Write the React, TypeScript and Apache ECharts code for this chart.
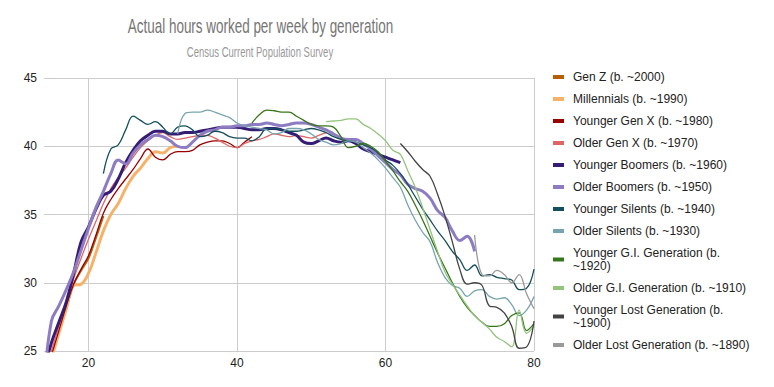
import React, { useEffect, useRef } from "react";
import * as echarts from "echarts";

const titleText = "Actual hours worked per week by generation";
const subtitleText = "Census Current Population Survey";

const seriesNames = [
  "Gen Z (b. ~2000)",
  "Millennials (b. ~1990)",
  "Younger Gen X (b. ~1980)",
  "Older Gen X (b. ~1970)",
  "Younger Boomers (b. ~1960)",
  "Older Boomers (b. ~1950)",
  "Younger Silents (b. ~1940)",
  "Older Silents (b. ~1930)",
  "Younger G.I. Generation (b. ~1920)",
  "Older G.I. Generation (b. ~1910)",
  "Younger Lost Generation (b. ~1900)",
  "Older Lost Generation (b. ~1890)",
];

const seriesColors = [
  "#b45f06", "#f6b26b", "#990000", "#e06666", "#351c75", "#8e7cc3",
  "#134f5c", "#76a5af", "#38761d", "#93c47d", "#434343", "#999999",
];

// first age (x) of each series; values are one per year of age
const startAges = [14, 14, 14, 14, 14, 14, 22, 32, 42, 52, 62, 72];

const genZ = [23.4, 24.8, 26.4, 28.1, 29.9, 30.9, 31.8, 33.3, 34.9];
const millennials = [23.0, 24.5, 26.3, 28.1, 29.8, 29.9, 30.7, 32.2, 33.8, 35.0, 35.8, 36.9, 37.8, 38.4, 39.1, 39.6, 39.5, 39.9, 40.0];
const youngerGenX = [23.0, 24.7, 26.5, 28.3, 29.9, 31.0, 32.0, 33.5, 35.1, 36.1, 36.9, 37.6, 38.3, 39.1, 39.8, 39.2, 39.0, 39.4, 39.6, 39.6, 39.7, 40.1, 40.3, 40.4, 40.4, 40.2, 39.9, 40.3, 40.7];
const olderGenX = [23.3, 25.0, 26.8, 28.6, 30.3, 31.8, 33.2, 34.5, 35.8, 36.9, 37.7, 38.4, 39.2, 39.9, 40.4, 40.8, 41.0, 40.7, 40.5, 40.6, 40.7, 40.8, 40.8, 40.6, 40.3, 40.0, 39.9, 40.2, 40.4, 40.5, 40.7, 40.9, 40.8, 40.7, 40.8, 40.7, 40.6, 40.8, 41.0];
const youngerBoomers = [23.6, 25.6, 27.1, 28.6, 30.7, 33.0, 34.1, 35.4, 36.4, 36.7, 37.6, 38.8, 39.7, 40.4, 40.8, 41.1, 41.1, 40.9, 40.9, 41.0, 41.0, 41.1, 41.2, 41.3, 41.4, 41.4, 41.4, 41.3, 41.2, 41.2, 41.3, 41.3, 41.2, 41.0, 40.8, 40.3, 40.2, 40.4, 40.6, 40.4, 40.3, 40.4, 40.2, 39.8, 39.6, 39.4, 39.2, 39.0, 38.8];
const olderBoomers = [22.5, 27.2, 28.3, 29.5, 30.8, 32.4, 34.0, 35.5, 36.7, 38.0, 39.0, 38.7, 39.5, 40.1, 40.5, 40.8, 40.7, 40.4, 40.0, 39.9, 40.3, 40.8, 41.1, 41.2, 41.4, 41.4, 41.5, 41.5, 41.6, 41.6, 41.7, 41.6, 41.5, 41.6, 41.7, 41.7, 41.6, 41.4, 41.2, 40.9, 40.6, 40.5, 40.5, 40.2, 39.8, 39.3, 38.8, 38.3, 37.9, 37.2, 36.9, 36.7, 36.2, 35.3, 34.8, 33.8, 33.1, 33.4, 32.3];
const youngerSilents = [38.0, 39.8, 40.1, 41.2, 42.2, 41.9, 41.6, 41.8, 41.4, 40.9, 41.4, 41.5, 41.2, 40.7, 40.8, 41.1, 41.0, 40.7, 40.6, 40.6, 40.4, 40.7, 41.3, 41.3, 41.2, 41.1, 41.1, 41.2, 41.3, 41.2, 41.0, 40.7, 40.5, 40.4, 40.3, 40.1, 39.9, 39.5, 39.0, 38.6, 38.0, 37.2, 36.3, 35.4, 34.6, 33.8, 33.1, 32.3, 31.7, 30.9, 31.3, 30.5, 30.6, 30.4, 30.3, 30.2, 29.5, 29.6, 31.0];
const olderSilents = [40.9, 42.4, 42.5, 42.5, 42.65, 42.5, 42.3, 42.1, 41.7, 41.5, 41.4, 41.3, 41.2, 40.9, 41.0, 41.3, 41.3, 41.2, 40.9, 40.5, 40.3, 40.1, 40.2, 40.4, 40.3, 39.9, 39.5, 39.0, 38.4, 37.7, 37.0, 35.7, 34.6, 33.7, 33.0, 31.5, 30.4, 29.8, 29.6, 29.0, 29.4, 29.5, 29.0, 28.8, 28.9, 28.4, 27.6, 28.0, 29.0];
const youngerGI = [41.7, 42.3, 42.65, 42.6, 42.5, 42.5, 42.2, 41.9, 41.6, 41.5, 41.5, 41.4, 40.7, 39.9, 40.0, 40.2, 40.0, 39.6, 38.9, 38.2, 37.4, 36.7, 35.7, 34.6, 33.4, 32.2, 31.1, 30.0, 29.0, 28.2, 27.6, 27.1, 26.8, 26.8, 27.0, 27.6, 27.8, 26.5, 27.0];
const olderGI = [41.8, 41.85, 41.9, 42.0, 42.0, 41.6, 41.3, 40.9, 40.4, 39.7, 39.4, 38.2, 37.0, 35.5, 33.9, 32.3, 30.8, 29.9, 29.1, 28.3, 27.6, 27.1, 26.6, 26.0, 25.7, 25.3, 28.0, 26.3, 26.8];
const youngerLost = [40.2, 39.6, 38.9, 38.3, 37.8, 36.5, 34.9, 33.0, 31.0, 29.9, 30.0, 29.8, 28.3, 28.2, 27.8, 26.8, 25.2, 25.3, 27.2];
const olderLost = [33.5, 30.6, 30.5, 30.9, 30.6, 30.0, 30.6, 29.2, 28.1];

const seriesValues = [
  genZ, millennials, youngerGenX, olderGenX, youngerBoomers, olderBoomers,
  youngerSilents, olderSilents, youngerGI, olderGI, youngerLost, olderLost,
];

const thickSeries = [1, 4, 5];

const xTicks = [20, 40, 60, 80];
const xMin = 14;
const xMax = 80;
const yMin = 25;
const yMax = 45;
const yInterval = 5;

const FONT = '"Liberation Sans", Arial, sans-serif';

function measure(text: string, font: string): number {
  const c = document.createElement("canvas").getContext("2d");
  if (!c) return 1;
  c.font = font;
  return c.measureText(text).width || 1;
}

export default function App() {
  const ref = useRef<HTMLDivElement>(null);

  useEffect(() => {
    if (!ref.current) return;
    const chart = echarts.init(ref.current, undefined, { renderer: "svg" });

    const titleScale = 265.5 / measure(titleText, `20px "Liberation Sans"`);
    const subScale = 146.5 / measure(subtitleText, `15px "Liberation Sans"`);

    const series = seriesNames.map((name, i) => ({
      name,
      type: "line",
      data: seriesValues[i].map((v, k) => [startAges[i] + k, v]),
      smooth: 0.4,
      showSymbol: false,
      symbol: "none",
      clip: true,
      lineStyle: {
        color: seriesColors[i],
        width: thickSeries.includes(i) ? 3 : i === 0 ? 2 : 1.3,
      },
      itemStyle: { color: seriesColors[i] },
      emphasis: { disabled: true },
    }));

    chart.setOption({
      animation: false,
      backgroundColor: "#ffffff",
      textStyle: { fontFamily: FONT },
      graphic: [
        {
          type: "text",
          x: 260.5,
          y: 27,
          scaleX: titleScale,
          style: {
            text: titleText,
            font: `20px ${FONT}`,
            fill: "#757575",
            align: "center",
            verticalAlign: "middle",
          },
        },
        {
          type: "text",
          x: 260,
          y: 52.5,
          scaleX: subScale,
          style: {
            text: subtitleText,
            font: `15px ${FONT}`,
            fill: "#999999",
            align: "center",
            verticalAlign: "middle",
          },
        },
      ],
      grid: { left: 44, right: 240, top: 78, bottom: 36, containLabel: false },
      legend: {
        orient: "vertical",
        left: 553,
        top: 70.5,
        padding: 0,
        itemGap: 9,
        itemWidth: 11,
        itemHeight: 4,
        icon: "rect",
        selectedMode: false,
        data: seriesNames,
        formatter: (name: string) =>
          name.startsWith("Younger G.I.") || name.startsWith("Younger Lost")
            ? name.replace(" ~", "\n~")
            : name,
        textStyle: {
          fontFamily: FONT,
          fontSize: 12,
          lineHeight: 13,
          color: "#222222",
          padding: [0, 0, 0, 4],
        },
      },
      xAxis: {
        type: "value",
        min: xMin,
        max: xMax,
        axisLine: { show: false },
        axisTick: { show: false, customValues: xTicks },
        axisLabel: {
          customValues: xTicks,
          color: "#222222",
          fontSize: 12,
          fontFamily: FONT,
          margin: 6,
        },
        splitLine: { show: true, lineStyle: { color: "#cccccc", width: 1 } },
      },
      yAxis: {
        type: "value",
        min: yMin,
        max: yMax,
        interval: yInterval,
        axisLine: { show: false },
        axisTick: { show: false },
        axisLabel: {
          color: "#222222",
          fontSize: 12,
          fontFamily: FONT,
          margin: 7,
        },
        splitLine: { show: true, lineStyle: { color: "#cccccc", width: 1 } },
      },
      series,
    });

    return () => chart.dispose();
  }, []);

  return (
    <div
      ref={ref}
      style={{ position: "fixed", left: 0, top: 0, width: 774, height: 387, background: "#fff" }}
    />
  );
}
